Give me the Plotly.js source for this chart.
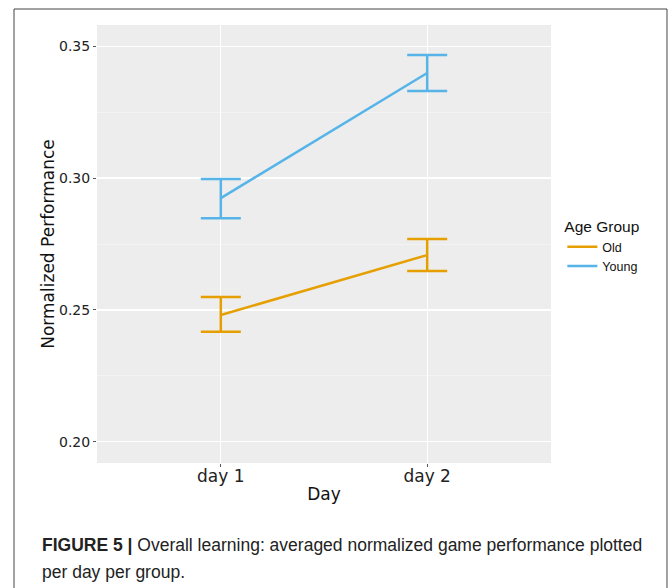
<!DOCTYPE html>
<html>
<head>
<meta charset="utf-8">
<script src="https://cdn.plot.ly/plotly-3.0.1.min.js"></script>
<style>
html,body{margin:0;padding:0;background:#fff;}
#chart{width:669px;height:588px;}
</style>
</head>
<body>
<div id="chart"></div>
<script>
const days = ['day 1', 'day 2'];
const oldMean = [0.2481, 0.2708];
const oldUpper = [0.2549, 0.2769];
const oldLower = [0.2417, 0.2648];
const youngMean = [0.2924, 0.3398];
const youngUpper = [0.2996, 0.3466];
const youngLower = [0.2848, 0.3330];
const yTicks = [0.20, 0.25, 0.30, 0.35];
const yTickText = ['0.20', '0.25', '0.30', '0.35'];

function mk(name, mean, up, lo, color) {
  return {
    type: 'scatter', mode: 'lines', name: name, x: days, y: mean,
    line: {color: color, width: 2.5},
    error_y: {type: 'data', symmetric: false,
      array: up.map((v, i) => v - mean[i]),
      arrayminus: mean.map((v, i) => v - lo[i]),
      color: color, thickness: 2.5, width: 20}
  };
}
const data = [
  mk('Old', oldMean, oldUpper, oldLower, '#E69F00'),
  mk('Young', youngMean, youngUpper, youngLower, '#56B4E9')
];
const layout = {
  width: 669, height: 588,
  margin: {l: 97, r: 118, t: 25, b: 125},
  paper_bgcolor: '#fff', plot_bgcolor: '#EDEDED',
  showlegend: true,
  xaxis: {
    type: 'category', range: [-0.6, 1.6],
    showgrid: true, gridcolor: '#fff', gridwidth: 1.2, zeroline: false,
    ticks: 'outside', ticklen: 3, tickcolor: '#555',
    ticklabelstandoff: -5,
    tickfont: {family: 'DejaVu Sans, sans-serif', size: 17, color: '#222'},
    title: {text: 'Day', font: {family: 'DejaVu Sans, sans-serif', size: 17, color: '#111'}, standoff: 2}
  },
  yaxis: {
    range: [0.192, 0.358], tickvals: yTicks, ticktext: yTickText,
    showgrid: true, gridcolor: '#fff', gridwidth: 1.2, zeroline: false,
    minor: {dtick: 0.025, tick0: 0.2, showgrid: true, gridcolor: '#F7F7F7', gridwidth: 0.6, ticks: ''},
    ticks: 'outside', ticklen: 3, tickcolor: '#555',
    tickfont: {family: 'DejaVu Sans, sans-serif', size: 14, color: '#222'},
    title: {text: 'Normalized Performance', font: {family: 'DejaVu Sans, sans-serif', size: 17, color: '#111'}, standoff: 0}
  },
  legend: {
    x: 1.025, y: 0.573, xanchor: 'left', yanchor: 'top',
    bgcolor: 'rgba(0,0,0,0)',
    title: {text: 'Age Group', font: {family: 'Liberation Sans, Arial, sans-serif', size: 15.5, color: '#111'}},
    font: {family: 'Liberation Sans, Arial, sans-serif', size: 12.5, color: '#111'},
    itemwidth: 30, tracegroupgap: 0
  },
  shapes: [{
    type: 'rect', xref: 'paper', yref: 'paper',
    x0: -0.1828, x1: 1.2555, y0: -0.3, y1: 1.0365,
    line: {color: '#444', width: 1}, fillcolor: 'rgba(0,0,0,0)', layer: 'below'
  }],
  annotations: [{
    xref: 'paper', yref: 'paper', x: -0.125, y: -0.187, xanchor: 'left', yanchor: 'middle',
    showarrow: false, align: 'left',
    text: '<b>FIGURE 5 |</b> Overall learning: averaged normalized game performance plotted',
    font: {family: 'Liberation Sans, Arial, sans-serif', size: 17.5, color: '#222'}
  }, {
    xref: 'paper', yref: 'paper', x: -0.125, y: -0.249, xanchor: 'left', yanchor: 'middle',
    showarrow: false, align: 'left',
    text: 'per day per group.',
    font: {family: 'Liberation Sans, Arial, sans-serif', size: 17.5, color: '#222'}
  }]
};
Plotly.newPlot('chart', data, layout, {displayModeBar: false, staticPlot: true});
</script>
</body>
</html>
